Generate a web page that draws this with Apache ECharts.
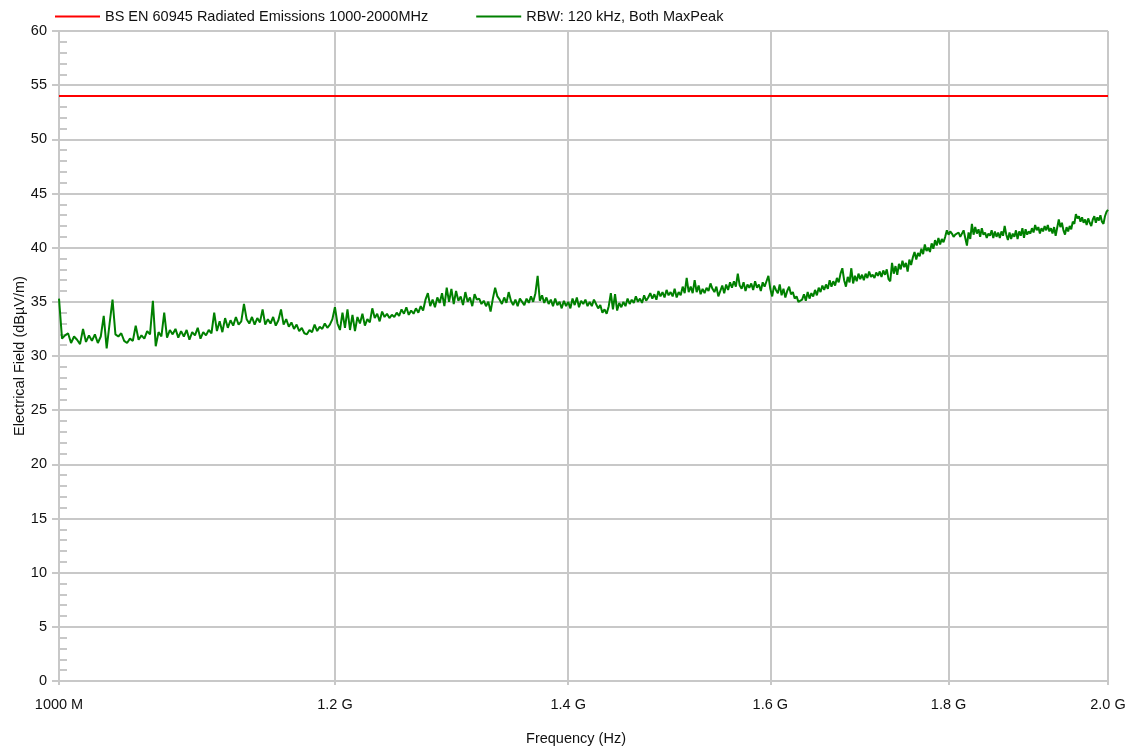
<!DOCTYPE html>
<html>
<head>
<meta charset="utf-8">
<script src="https://cdn.jsdelivr.net/npm/echarts@6/dist/echarts.min.js"></script>
<style>
html,body{margin:0;padding:0;background:#fff;}
#chart{width:1136px;height:749px;}
</style>
</head>
<body>
<div id="chart"></div>
<script>
// Sweep frequencies (MHz)
const freqMHz = [
1000,1002,1004,1006,1008,1010,1012,1014,1016,1018,
1020,1022,1024,1026,1028,1030,1032,1034,1036,1038,
1040,1042,1044,1046,1048,1050,1052,1054,1056,1058,
1060,1062,1064,1066,1068,1070,1072,1074,1076,1078,
1080,1082,1084,1086,1088,1090,1092,1094,1096,1098,
1100,1102,1104,1106,1108,1110,1112,1114,1116,1118,
1120,1122,1124,1126,1128,1130,1132,1134,1136,1138,
1140,1142,1144,1146,1148,1150,1152,1154,1156,1158,
1160,1162,1164,1166,1168,1170,1172,1174,1176,1178,
1180,1182,1184,1186,1188,1190,1192,1194,1196,1198,
1200,1202,1204,1206,1208,1210,1212,1214,1216,1218,
1220,1222,1224,1226,1228,1230,1232,1234,1236,1238,
1240,1242,1244,1246,1248,1250,1252,1254,1256,1258,
1260,1262,1264,1266,1268,1270,1272,1274,1276,1278,
1280,1282,1284,1286,1288,1290,1292,1294,1296,1298,
1300,1302,1304,1306,1308,1310,1312,1314,1316,1318,
1320,1322,1324,1326,1328,1330,1332,1334,1336,1338,
1340,1342,1344,1346,1348,1350,1352,1354,1356,1358,
1360,1362,1364,1366,1368,1370,1372,1374,1376,1378,
1380,1382,1384,1386,1388,1390,1392,1394,1396,1398,
1400,1402,1404,1406,1408,1410,1412,1414,1416,1418,
1420,1422,1424,1426,1428,1430,1432,1434,1436,1438,
1440,1442,1444,1446,1448,1450,1452,1454,1456,1458,
1460,1462,1464,1466,1468,1470,1472,1474,1476,1478,
1480,1482,1484,1486,1488,1490,1492,1494,1496,1498,
1500,1502,1504,1506,1508,1510,1512,1514,1516,1518,
1520,1522,1524,1526,1528,1530,1532,1534,1536,1538,
1540,1542,1544,1546,1548,1550,1552,1554,1556,1558,
1560,1562,1564,1566,1568,1570,1572,1574,1576,1578,
1580,1582,1584,1586,1588,1590,1592,1594,1596,1598,
1600,1602,1604,1606,1608,1610,1612,1614,1616,1618,
1620,1622,1624,1626,1628,1630,1632,1634,1636,1638,
1640,1642,1644,1646,1648,1650,1652,1654,1656,1658,
1660,1662,1664,1666,1668,1670,1672,1674,1676,1678,
1680,1682,1684,1686,1688,1690,1692,1694,1696,1698,
1700,1702,1704,1706,1708,1710,1712,1714,1716,1718,
1720,1722,1724,1726,1728,1730,1732,1734,1736,1738,
1740,1742,1744,1746,1748,1750,1752,1754,1756,1758,
1760,1762,1764,1766,1768,1770,1772,1774,1776,1778,
1780,1782,1784,1786,1788,1790,1792,1794,1796,1798,
1800,1802,1804,1806,1808,1810,1812,1814,1816,1818,
1820,1822,1824,1826,1828,1830,1832,1834,1836,1838,
1840,1842,1844,1846,1848,1850,1852,1854,1856,1858,
1860,1862,1864,1866,1868,1870,1872,1874,1876,1878,
1880,1882,1884,1886,1888,1890,1892,1894,1896,1898,
1900,1902,1904,1906,1908,1910,1912,1914,1916,1918,
1920,1922,1924,1926,1928,1930,1932,1934,1936,1938,
1940,1942,1944,1946,1948,1950,1952,1954,1956,1958,
1960,1962,1964,1966,1968,1970,1972,1974,1976,1978,
1980,1982,1984,1986,1988,1990,1992,1994,1996,1998,
2000
];
// Measured field strength, dBuV/m (RBW 120 kHz, Max Peak)
const maxPeak = [
35.3,31.6,31.9,32.1,31.2,31.8,31.5,31.1,32.5,31.3,
31.9,31.4,32.0,31.2,31.8,33.7,30.7,33.0,35.2,32.0,
31.8,32.1,31.4,31.2,31.6,31.4,32.8,31.5,31.9,31.6,
32.3,32.0,35.1,30.9,32.2,31.8,34.0,31.7,32.4,32.0,
32.5,31.7,32.3,31.8,32.4,31.5,32.2,31.9,32.6,31.6,
32.2,31.9,32.4,32.1,34.0,32.3,33.2,32.2,33.5,32.6,
33.3,32.8,33.6,32.9,33.2,34.8,33.4,33.0,33.6,32.9,
33.5,33.1,34.3,32.9,33.4,33.0,33.6,32.8,33.3,34.3,
32.9,33.4,32.7,33.1,32.5,32.9,32.3,32.6,32.1,32.0,
32.4,32.2,32.9,32.3,32.7,32.5,33.0,32.6,32.9,33.4,
34.5,33.0,32.4,34.0,32.6,34.3,32.4,33.8,32.3,33.6,
33.0,33.9,32.8,33.4,33.1,34.4,33.5,33.9,33.2,34.1,
33.6,33.9,33.5,33.8,33.6,34.0,33.7,34.3,33.9,34.5,
33.8,34.2,33.9,34.4,34.0,34.6,34.2,35.2,35.8,34.6,
35.2,34.5,35.4,34.9,35.8,34.6,36.3,35.0,36.2,34.8,
36.0,35.1,35.5,34.7,35.9,35.0,35.4,34.6,35.7,35.2,
35.3,34.8,35.1,34.6,35.0,34.1,35.3,36.3,35.5,35.2,
34.8,35.4,34.9,35.9,35.1,34.7,35.2,34.6,35.3,35.0,
34.7,35.3,34.9,35.5,35.0,35.8,37.4,35.1,35.6,34.9,
35.4,34.8,35.2,34.6,35.3,34.7,35.0,34.4,35.1,34.6,
35.0,34.4,35.3,34.7,35.4,34.5,35.1,34.8,35.2,34.6,
35.0,34.6,35.2,34.8,34.4,34.7,34.0,34.3,33.9,34.6,
35.8,34.3,35.7,34.2,34.9,34.5,35.0,34.6,35.3,34.8,
35.2,34.9,35.5,35.0,35.3,34.9,35.6,35.1,35.4,35.8,
35.3,35.7,35.2,36.0,35.5,35.9,35.4,36.1,35.6,35.9,
35.5,36.2,35.4,35.9,35.6,36.4,35.8,37.2,35.9,36.4,
35.8,37.0,35.9,36.5,35.7,36.2,35.8,36.3,36.0,36.7,
36.2,35.9,36.4,35.5,36.0,36.5,35.8,36.6,36.1,36.8,
36.3,36.9,36.4,37.6,36.5,36.2,36.8,36.0,36.6,36.3,
36.7,36.1,36.9,36.3,36.6,36.0,36.8,36.4,36.9,37.4,
36.2,35.5,36.5,36.1,35.8,36.6,35.6,36.2,35.4,36.0,
36.4,35.7,35.9,35.3,35.5,35.0,34.9,35.2,35.7,35.1,
35.9,35.3,35.8,35.5,36.1,35.6,36.3,35.9,36.5,36.1,
36.6,36.2,37.0,36.4,36.9,36.5,37.2,36.8,37.6,38.1,
37.0,36.4,37.3,36.8,38.1,36.7,37.4,36.9,37.6,37.1,
37.5,37.0,37.6,37.2,37.8,37.3,37.5,37.2,37.7,37.4,
37.8,37.3,37.9,37.5,38.0,37.1,36.9,38.6,37.6,38.3,
37.5,38.5,38.0,38.8,38.2,38.6,37.8,38.9,38.4,39.1,
39.6,38.9,39.5,39.2,39.9,39.4,40.3,39.7,40.0,39.6,
40.4,39.9,40.7,40.2,40.9,40.3,40.8,40.5,41.0,41.6,
41.2,41.5,41.3,41.0,41.2,41.1,41.4,41.0,41.3,41.6,
40.9,40.2,41.4,40.8,42.2,41.2,41.9,41.3,41.7,41.0,
41.8,41.2,41.4,40.9,41.3,41.1,41.6,40.9,41.5,41.0,
41.4,40.9,41.5,41.1,42.0,41.2,40.7,41.4,40.8,41.3,
41.0,41.6,40.8,41.5,41.1,41.8,40.9,41.7,41.2,41.5,
41.3,41.8,41.4,42.1,41.6,41.9,41.3,41.8,41.5,42.0,
41.6,42.1,41.5,41.8,41.3,41.9,41.1,41.0,42.6,41.9,
42.3,41.6,41.2,41.9,41.5,42.0,41.7,42.4,42.2,43.1,
42.7,42.9,42.4,42.8,42.3,42.6,42.1,42.7,42.3,42.0,
42.6,42.9,42.3,42.8,42.5,43.0,42.4,42.2,42.9,43.3,
43.5
];
// Limit line
const limitFreqMHz = [1000, 2000];
const limitLevel = [54, 54];
// Tick positions / labels
const xTickValues = [1000, 1200, 1400, 1600, 1800, 2000];
const xTickLabels = ['1000 M', '1.2 G', '1.4 G', '1.6 G', '1.8 G', '2.0 G'];
const seriesNames = ['BS EN 60945 Radiated Emissions 1000-2000MHz', 'RBW: 120 kHz, Both MaxPeak'];

const gridColor = '#c8c8c8';
const textColor = '#111111';
const fontFamily = 'Liberation Sans, Arial, sans-serif';

const chart = echarts.init(document.getElementById('chart'), null, {renderer: 'canvas'});
chart.setOption({
  animation: false,
  textStyle: {fontFamily: fontFamily, color: textColor},
  legend: {
    left: 50, top: 4, padding: 5,
    icon: 'rect', itemWidth: 45, itemHeight: 2, itemGap: 48,
    textStyle: {fontSize: 14.5, color: textColor, fontFamily: fontFamily},
    data: seriesNames
  },
  grid: {left: 59, right: 28, top: 31, bottom: 68, containLabel: false, outerBoundsMode: 'none'},
  xAxis: {
    type: 'log', logBase: 10, min: 1000, max: 2000,
    name: 'Frequency (Hz)', nameLocation: 'middle', nameGap: 50, nameMoveOverlap: false,
    nameTextStyle: {fontSize: 14.5, color: textColor, padding: [0, 15, 0, 0]},
    axisLine: {show: true, lineStyle: {color: gridColor, width: 2}},
    axisTick: {show: true, length: 4, customValues: xTickValues, lineStyle: {color: gridColor, width: 2}},
    axisLabel: {
      customValues: xTickValues, margin: 16, fontSize: 14.5, color: textColor,
      formatter: function (v) { const i = xTickValues.indexOf(Math.round(v)); return i >= 0 ? xTickLabels[i] : ''; }
    },
    splitLine: {show: true, lineStyle: {color: gridColor, width: 2}},
    minorTick: {show: false}, minorSplitLine: {show: false}
  },
  yAxis: [{
    type: 'value', min: 0, max: 60, interval: 5, position: 'left',
    name: 'Electrical Field (dBµV/m)', nameLocation: 'middle', nameGap: 32, nameMoveOverlap: false,
    nameTextStyle: {fontSize: 14.5, color: textColor},
    axisLine: {show: true, lineStyle: {color: gridColor, width: 2}},
    axisTick: {show: true, length: 7, lineStyle: {color: gridColor, width: 2}},
    axisLabel: {margin: 12, fontSize: 14.5, color: textColor},
    splitLine: {show: true, lineStyle: {color: gridColor, width: 2}}
  }, {
    type: 'value', min: 0, max: 60, interval: 5, position: 'left', offset: 0,
    axisLine: {show: false},
    axisTick: {show: false, inside: true},
    axisLabel: {show: false},
    splitLine: {show: false},
    minorTick: {show: true, splitNumber: 5, length: 8, lineStyle: {color: gridColor, width: 2}}
  }],
  series: [{
    name: seriesNames[0], type: 'line', showSymbol: false, symbol: 'none',
    data: limitFreqMHz.map((f, i) => [f, limitLevel[i]]),
    lineStyle: {color: '#ff0000', width: 2}, itemStyle: {color: '#ff0000'},
    z: 3
  }, {
    name: seriesNames[1], type: 'line', showSymbol: false, symbol: 'none',
    data: freqMHz.map((f, i) => [f, maxPeak[i]]),
    lineStyle: {color: '#008000', width: 2}, itemStyle: {color: '#008000'},
    z: 2
  }]
});
</script>
</body>
</html>
